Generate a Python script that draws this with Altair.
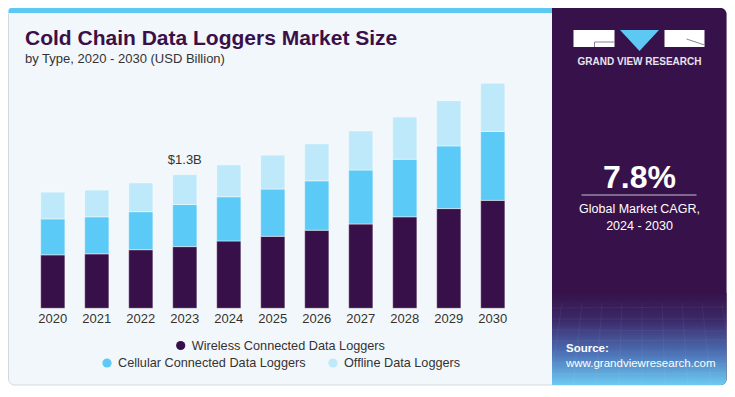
import altair as alt
import pandas as pd

years = ["2020", "2021", "2022", "2023", "2024", "2025", "2026", "2027", "2028", "2029", "2030"]
series = ["Wireless Connected Data Loggers", "Cellular Connected Data Loggers", "Offline Data Loggers"]
wireless = [0.52, 0.53, 0.57, 0.60, 0.655, 0.70, 0.76, 0.82, 0.89, 0.97, 1.05]
cellular = [0.35, 0.36, 0.37, 0.41, 0.43, 0.46, 0.48, 0.525, 0.56, 0.61, 0.67]
offline = [0.26, 0.26, 0.28, 0.29, 0.31, 0.33, 0.36, 0.38, 0.41, 0.44, 0.47]
colors = ["#381049", "#5CCAF6", "#BEE9FA"]
callout_year = "2023"
callout_text = "$1.3B"

W, H = 719, 381
FONT = "Liberation Sans"

rows = []
for i, y in enumerate(years):
    for k, (s, vals) in enumerate(zip(series, [wireless, cellular, offline])):
        rows.append({"year": y, "series": s, "value": vals[i], "order": k})
df = pd.DataFrame(rows)
totals = pd.DataFrame({"year": years, "total": [a + b + c for a, b, c in zip(wireless, cellular, offline)]})
callout = totals[totals["year"] == callout_year].assign(label=callout_text)

xscale = alt.Scale(domain=years, range=[22.8, 506.8], paddingInner=0.45, paddingOuter=0.225)
yscale = alt.Scale(domain=[0, 2.5], range=[300.3, 43.3], nice=False, zero=True)

one = pd.DataFrame({"a": [0]})
base = alt.Chart(one)

PX0, PX1 = 544, 719  # right panel
PC = (PX0 + PX1) / 2

card = base.mark_rect(fill="#F2F7FB", stroke="#D4D8DC", strokeWidth=1, cornerRadius=6).encode(
    x=alt.value(0.5), x2=alt.value(W - 0.5), y=alt.value(0.5), y2=alt.value(377))
strip = base.mark_rect(fill="#5CC8F3", cornerRadiusTopLeft=6).encode(
    x=alt.value(0.5), x2=alt.value(PX0), y=alt.value(0), y2=alt.value(5))
panel = base.mark_rect(fill="#37124A", cornerRadiusTopRight=6, cornerRadiusBottomRight=6).encode(
    x=alt.value(PX0), x2=alt.value(PX1 - 0.5), y=alt.value(0), y2=alt.value(377))
grad = base.mark_rect(
    fill=alt.Gradient(gradient="linear", x1=0, x2=0, y1=0, y2=1,
                      stops=[alt.GradientStop(offset=0, color="#37124A"),
                             alt.GradientStop(offset=0.3, color="#3B2A6A"),
                             alt.GradientStop(offset=0.65, color="#4C6FB4"),
                             alt.GradientStop(offset=1, color="#6CCBF2")]),
    cornerRadiusBottomRight=6).encode(
    x=alt.value(PX0), x2=alt.value(PX1 - 0.5), y=alt.value(285), y2=alt.value(377))

# mesh texture lines
mesh = []
for k in range(7):
    yy = 300 + k * 11
    mesh.append(base.mark_rule(color="white", opacity=0.08, strokeWidth=0.7).encode(
        x=alt.value(PX0), x2=alt.value(PX1 - 1), y=alt.value(yy), y2=alt.value(yy + (k % 3) - 1)))
for k in range(9):
    xx = PX0 + 10 + k * 20
    mesh.append(base.mark_rule(color="white", opacity=0.07, strokeWidth=0.7).encode(
        x=alt.value(xx), x2=alt.value(xx + (k - 4) * 3), y=alt.value(295), y2=alt.value(377)))

# logo
lb = base.mark_rect(fill="white").encode(
    x=alt.value(PC - 66), x2=alt.value(PC - 25), y=alt.value(22), y2=alt.value(39))
lg1 = base.mark_rule(color="#8D7FA0", strokeWidth=1).encode(
    x=alt.value(PC - 45), x2=alt.value(PC - 25), y=alt.value(34), y2=alt.value(34))
lg2 = base.mark_rule(color="#8D7FA0", strokeWidth=1).encode(
    x=alt.value(PC - 45), x2=alt.value(PC - 45), y=alt.value(34), y2=alt.value(39))
tri = base.mark_point(shape="M-1,-0.54L1,-0.54L0,0.54Z", filled=True, fill="#5CC8F3",
                      opacity=1, strokeWidth=0, size=1521).encode(
    x=alt.value(PC), y=alt.value(32.5))
rb = base.mark_rect(fill="white").encode(
    x=alt.value(PC + 25), x2=alt.value(PC + 65), y=alt.value(22), y2=alt.value(39))
rg = base.mark_rule(color="#8D7FA0", strokeWidth=1).encode(
    x=alt.value(PC + 47), x2=alt.value(PC + 65), y=alt.value(31), y2=alt.value(37))
brand = base.mark_text(text="GRAND VIEW RESEARCH", font=FONT, fontSize=10, fontWeight="bold",
                       color="#E8E4EE", align="center", baseline="middle").encode(
    x=alt.value(PC), y=alt.value(54))

cagr = base.mark_text(text="7.8%", font=FONT, fontSize=32, fontWeight="bold", color="white",
                      align="center", baseline="middle").encode(x=alt.value(PC), y=alt.value(170))
cline = base.mark_rule(color="#C9C2D2", strokeWidth=1).encode(
    x=alt.value(PC - 58), x2=alt.value(PC + 57), y=alt.value(187), y2=alt.value(187))
c1 = base.mark_text(text="Global Market CAGR,", font=FONT, fontSize=12.5, color="white",
                    align="center", baseline="middle").encode(x=alt.value(PC), y=alt.value(201))
c2 = base.mark_text(text="2024 - 2030", font=FONT, fontSize=12.5, color="white",
                    align="center", baseline="middle").encode(x=alt.value(PC), y=alt.value(218))
src1 = base.mark_text(text="Source:", font=FONT, fontSize=11.5, fontWeight="bold", color="white",
                      align="left", baseline="middle").encode(x=alt.value(PX0 + 14), y=alt.value(341))
src2 = base.mark_text(text="www.grandviewresearch.com", font=FONT, fontSize=11.5, color="white",
                      align="left", baseline="middle").encode(x=alt.value(PX0 + 14), y=alt.value(356))

title = base.mark_text(text="Cold Chain Data Loggers Market Size", font=FONT, fontSize=21,
                       fontWeight=900, color="#3A1049", align="left", baseline="alphabetic").encode(
    x=alt.value(17), y=alt.value(37))
subtitle = base.mark_text(text="by Type, 2020 - 2030 (USD Billion)", font=FONT, fontSize=13,
                          color="#333333", align="left", baseline="alphabetic").encode(
    x=alt.value(17), y=alt.value(55))

bars = alt.Chart(df).mark_bar(stroke="white", strokeOpacity=0.45, strokeWidth=1).encode(
    x=alt.X("year:N", scale=xscale, axis=None),
    y=alt.Y("value:Q", stack="zero", scale=yscale, axis=None),
    color=alt.Color("series:N", scale=alt.Scale(domain=series, range=colors), legend=None),
    order=alt.Order("order:Q"),
)

yearlabels = alt.Chart(totals).mark_text(font=FONT, fontSize=13, color="#333333",
                                         baseline="middle").encode(
    x=alt.X("year:N", scale=xscale, axis=None),
    y=alt.value(310.5),
    text="year:N",
)

callout_lbl = alt.Chart(callout).mark_text(font=FONT, fontSize=13, color="#333333",
                                           baseline="alphabetic", dy=-11).encode(
    x=alt.X("year:N", scale=xscale, axis=None),
    y=alt.Y("total:Q", scale=yscale, axis=None),
    text="label:N",
)

# legend
leg_pos = [(172.7, 337.5), (99, 355), (325, 355)]
legend_layers = []
for (lx, ly), s, c in zip(leg_pos, series, colors):
    legend_layers.append(base.mark_point(filled=True, fill=c, size=85, opacity=1, strokeWidth=0).encode(
        x=alt.value(lx), y=alt.value(ly)))
    legend_layers.append(base.mark_text(text=s, font=FONT, fontSize=12.7, color="#333333",
                                        align="left", baseline="middle").encode(
        x=alt.value(lx + 11), y=alt.value(ly)))

chart = alt.layer(
    card, strip, panel, grad, *mesh, lb, lg1, lg2, tri, rb, rg, brand,
    cagr, cline, c1, c2, src1, src2, title, subtitle,
    bars, yearlabels, callout_lbl, *legend_layers,
).resolve_scale(x="shared", y="shared").properties(
    width=W, height=H, autosize=alt.AutoSizeParams(type="none"), padding=0,
    background="white",
).configure_view(stroke=None)

chart.save("out.html", embed_options={"renderer": "svg", "actions": False})
